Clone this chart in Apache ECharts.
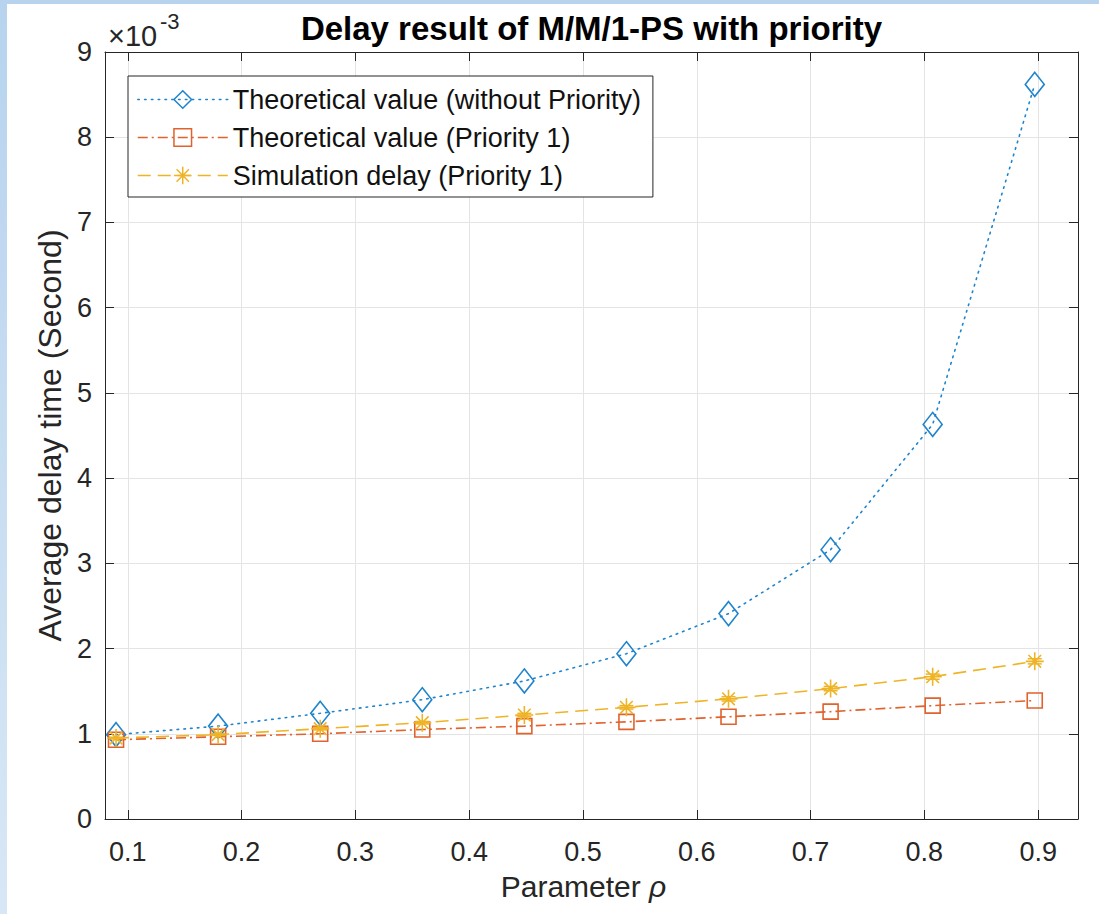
<!DOCTYPE html>
<html><head><meta charset="utf-8">
<script src="https://cdn.jsdelivr.net/npm/echarts@6/dist/echarts.min.js"></script>
<style>
html,body{margin:0;padding:0;width:1099px;height:914px;overflow:hidden;background:linear-gradient(#b7d3ee,#d8e7f5);}
#c{position:absolute;left:7px;top:4px;width:1092px;height:910px;background:#fff;}
</style></head><body><div id="c"></div>
<script>
// Data (delay values in units of 1e-3 s)
const rho = [0.0897, 0.1794, 0.2691, 0.3588, 0.4485, 0.5382, 0.6279, 0.7176, 0.8073, 0.8970];
const theoNoPriority = [0.99, 1.09, 1.24, 1.40, 1.62, 1.94, 2.41, 3.16, 4.63, 8.62];
const theoPriority1 = [0.93, 0.965, 1.00, 1.05, 1.09, 1.14, 1.20, 1.26, 1.33, 1.39];
const simPriority1 = [0.95, 0.99, 1.06, 1.13, 1.22, 1.31, 1.41, 1.53, 1.67, 1.85];
const simError = [0.01, 0.01, 0.015, 0.015, 0.02, 0.02, 0.025, 0.025, 0.03, 0.03];
const xTicks = [0.1, 0.2, 0.3, 0.4, 0.5, 0.6, 0.7, 0.8, 0.9];
const yTicks = [0, 1, 2, 3, 4, 5, 6, 7, 8, 9];
const seriesNames = ['Theoretical value (without Priority)', 'Theoretical value (Priority 1)', 'Simulation delay (Priority 1)'];
const titleText = 'Delay result of M/M/1-PS with priority';

const FF = '"Liberation Sans", Arial, Helvetica, sans-serif';
const AX = '#262626';
const C1 = '#1f84cc', C2 = '#e0622c', C3 = '#efb426';
const GRIDC = '#e4e4e4';
const starPath = 'path://M10,0L10,20M0,10L20,10M3,3L17,17M3,17L17,3';

const chart = echarts.init(document.getElementById('c'), null, {renderer: 'svg'});

function xy(vals) { return rho.map((r, i) => [r, vals[i]]); }

const commonX = {
  type: 'value', min: 0.08, max: 0.935,
  axisLine: {show: true, onZero: false, lineStyle: {color: AX, width: 1}},
  axisTick: {show: true, inside: true, length: 9, customValues: xTicks, lineStyle: {color: AX, width: 1}},
  splitLine: {show: false}
};
const commonY = {
  type: 'value', min: yTicks[0], max: yTicks[yTicks.length - 1], interval: 1,
  axisLine: {show: true, onZero: false, lineStyle: {color: AX, width: 1}},
  axisTick: {show: true, inside: true, length: 9, lineStyle: {color: AX, width: 1}},
  splitLine: {show: false}
};

const option = {
  animation: false,
  backgroundColor: '#fff',
  textStyle: {fontFamily: FF},
  title: {
    text: titleText, left: 584.5, top: 6, textAlign: 'center', padding: 0,
    textStyle: {fontFamily: FF, fontSize: 33, fontWeight: 'bold', color: '#000', lineHeight: 36}
  },
  grid: {left: 98, right: 21, top: 48, bottom: 95, containLabel: false},
  legend: {
    orient: 'vertical', left: 121, top: 72,
    data: seriesNames,
    itemWidth: 90, itemHeight: 22, itemGap: 11,
    padding: [10, 12, 8, 9],
    borderColor: AX, borderWidth: 1, backgroundColor: '#fff',
    textStyle: {fontFamily: FF, fontSize: 27, color: '#111', lineHeight: 26},
    itemStyle: {borderWidth: 1.5},
    lineStyle: {width: 1.5}
  },
  xAxis: [
    Object.assign({}, commonX, {
      position: 'bottom',
      axisLabel: {show: true, customValues: xTicks, fontFamily: FF, fontSize: 27, color: AX, margin: 19,
        formatter: v => v.toFixed(1)},
      splitLine: {show: true, lineStyle: {color: GRIDC, width: 1}},
      name: '{n|Parameter }{i|ρ}', nameLocation: 'middle', nameGap: 52,
      nameTextStyle: {padding: [0, 16, 0, 0], rich: {
        n: {fontFamily: FF, fontSize: 30, color: AX},
        i: {fontFamily: FF, fontSize: 30, fontStyle: 'italic', color: AX}
      }}
    }),
    Object.assign({}, commonX, {position: 'top', axisLabel: {show: false}})
  ],
  yAxis: [
    Object.assign({}, commonY, {
      position: 'left',
      axisLabel: {show: true, fontFamily: FF, fontSize: 27, color: AX, margin: 13},
      splitLine: {show: true, lineStyle: {color: GRIDC, width: 1}},
      name: 'Average delay time (Second)', nameLocation: 'middle', nameGap: 39,
      nameTextStyle: {fontFamily: FF, fontSize: 32, color: AX}
    }),
    Object.assign({}, commonY, {position: 'right', axisLabel: {show: false}})
  ],
  graphic: [
    {type: 'text', left: 101, top: 17, style: {text: '×10', fontFamily: FF, fontSize: 29, fill: AX}},
    {type: 'text', left: 153, top: 6, style: {text: '-3', fontFamily: FF, fontSize: 22, fill: AX}},
    // errorbar glyph in legend (third row)
    {type: 'group', left: 169, top: 157, silent: true, children: [
      {type: 'line', shape: {x1: 7, y1: 0, x2: 7, y2: 27}, style: {stroke: C3, lineWidth: 1.5}},
      {type: 'line', shape: {x1: 0, y1: 0, x2: 14, y2: 0}, style: {stroke: C3, lineWidth: 1.5}},
      {type: 'line', shape: {x1: 0, y1: 27, x2: 14, y2: 27}, style: {stroke: C3, lineWidth: 1.5}}
    ]}
  ],
  series: [
    {
      name: seriesNames[0], type: 'line', data: xy(theoNoPriority),
      symbol: 'diamond', symbolSize: [19, 24], showAllSymbol: true,
      lineStyle: {color: C1, width: 1.6, type: [1.6, 5.2], cap: 'round'},
      itemStyle: {color: 'rgba(255,255,255,0)', borderColor: C1, borderWidth: 1.6},
      emphasis: {disabled: true}, z: 2
    },
    {
      name: seriesNames[1], type: 'line', data: xy(theoPriority1),
      symbol: 'rect', symbolSize: 15, showAllSymbol: true,
      lineStyle: {color: C2, width: 1.6, type: [10, 4, 2, 4]},
      itemStyle: {color: 'rgba(255,255,255,0)', borderColor: C2, borderWidth: 1.6},
      emphasis: {disabled: true}, z: 3
    },
    {
      name: seriesNames[2], type: 'line', data: xy(simPriority1),
      symbol: starPath, symbolSize: 18, symbolKeepAspect: true, showAllSymbol: true,
      lineStyle: {color: C3, width: 1.6, type: [13, 7]},
      itemStyle: {color: 'rgba(255,255,255,0)', borderColor: C3, borderWidth: 1.6},
      emphasis: {disabled: true}, z: 4
    },
    {
      name: 'errorbars', type: 'custom', silent: true, z: 4,
      data: rho.map((r, i) => [r, simPriority1[i], simError[i]]),
      renderItem: function (params, api) {
        const x = api.value(0), y = api.value(1), e = api.value(2);
        const top = api.coord([x, y + e]);
        const bot = api.coord([x, y - e]);
        const h = 7;
        const st = {stroke: C3, lineWidth: 1.5};
        return {type: 'group', children: [
          {type: 'line', shape: {x1: top[0], y1: top[1], x2: bot[0], y2: bot[1]}, style: st},
          {type: 'line', shape: {x1: top[0] - h, y1: top[1], x2: top[0] + h, y2: top[1]}, style: st},
          {type: 'line', shape: {x1: bot[0] - h, y1: bot[1], x2: bot[0] + h, y2: bot[1]}, style: st}
        ]};
      }
    }
  ]
};
chart.setOption(option);
</script></body></html>
